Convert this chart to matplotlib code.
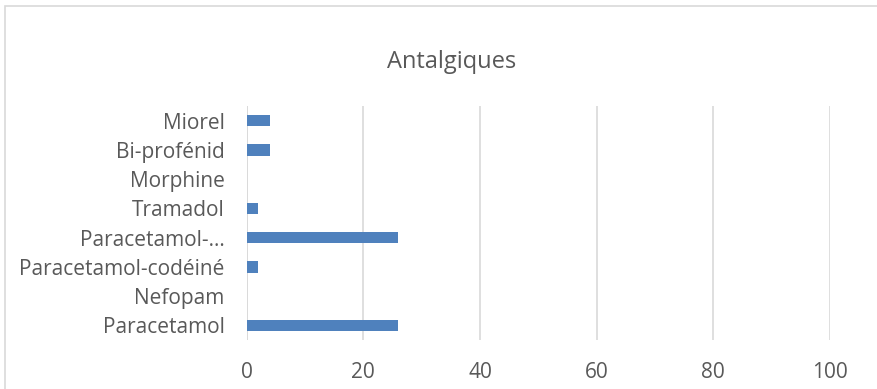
import matplotlib.pyplot as plt
from matplotlib.patches import Rectangle

categories = ["Paracetamol", "Nefopam", "Paracetamol-codéiné", "Paracetamol-…",
              "Tramadol", "Morphine", "Bi-profénid", "Miorel"]
values = [26, 0, 2, 26, 2, 0, 4, 4]
xticks = [0, 20, 40, 60, 80, 100]

W, H = 877, 389
fig = plt.figure(figsize=(W / 100, H / 100), dpi=100)
plt.rcParams["font.family"] = ["Open Sans", "DejaVu Sans"]

# outer chart border (Excel style)
fig.patches.append(Rectangle((5 / W, -0.1), 1.2, 1 - 6 / H + 0.1, transform=fig.transFigure,
                             fill=False, edgecolor="#d9d9d9", linewidth=1.2))

ax = fig.add_axes([246.7 / W, 1 - 340 / H, (830 - 246.7) / W, (340 - 106) / H])
y = range(len(categories))
ax.barh(y, values, height=0.4, color="#4f81bd")
ax.set_xlim(0, 100)
ax.set_ylim(-0.5, len(categories) - 0.5)
ax.set_yticks(list(y))
ax.set_yticklabels(categories)
ax.set_xticks(xticks)
ax.set_xticklabels([str(t) for t in xticks])
ax.tick_params(axis="both", length=0, labelsize=15, labelcolor="#595959")
ax.tick_params(axis="y", pad=16)
ax.tick_params(axis="x", pad=16)
ax.grid(axis="x", color="#d9d9d9", linewidth=1.2)
ax.set_axisbelow(True)
for s in ax.spines.values():
    s.set_visible(False)
ax.axvline(0, color="#d9d9d9", linewidth=1.2, zorder=0)

fig.text(452 / W, 1 - 62 / H, "Antalgiques", ha="center", va="center",
         fontsize=17, color="#595959")

fig.savefig("out.png", dpi=100)
